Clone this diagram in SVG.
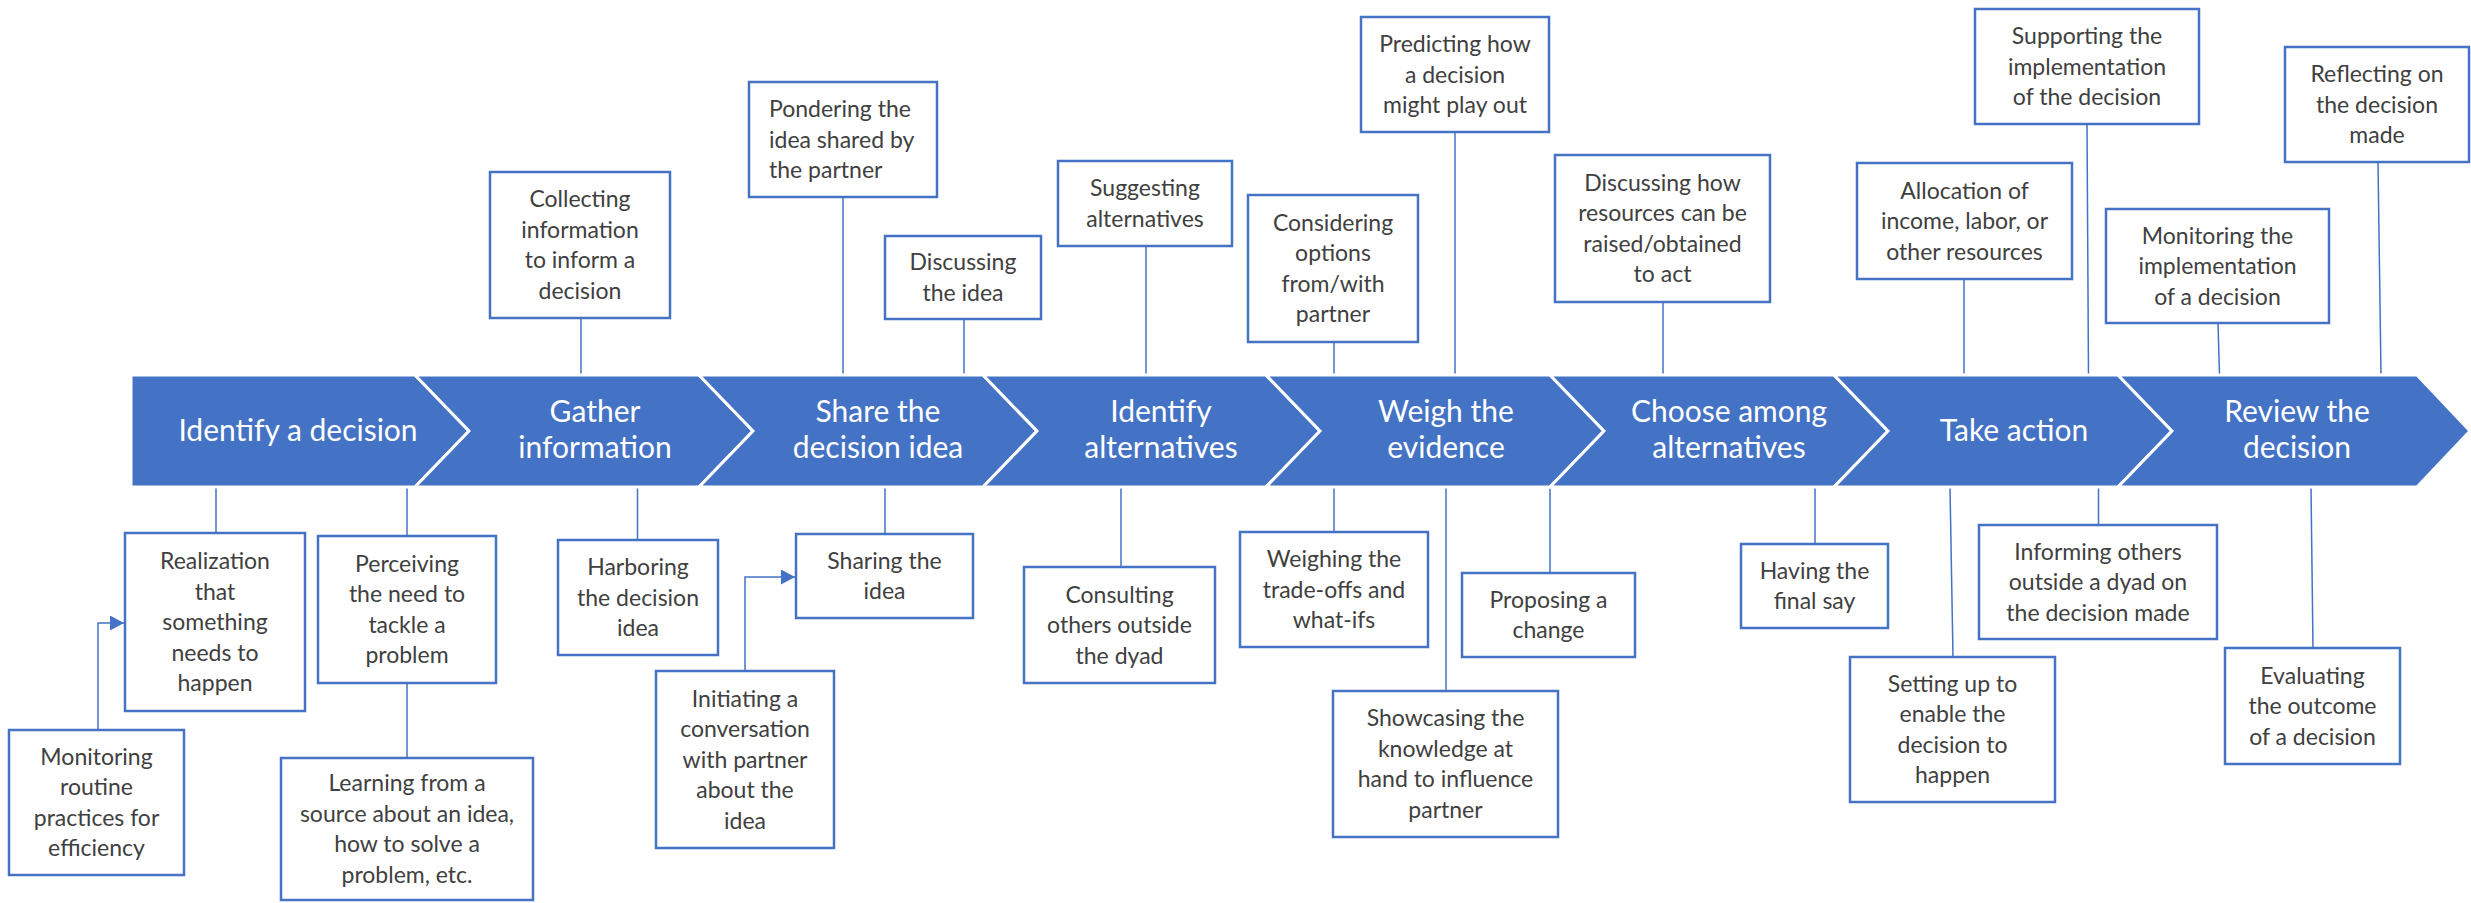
<svg xmlns="http://www.w3.org/2000/svg" width="2471" height="903" viewBox="0 0 2471 903">
<style>
.chev{fill:#4472C4;stroke:#fff;stroke-width:3;stroke-linejoin:miter}
.ct{font-family:Lato,"Liberation Sans",sans-serif;font-size:30px;fill:#fff;text-anchor:middle}
.box{fill:#fff;stroke:#4472C4;stroke-width:2.5}
.bt{font-family:Lato,"Liberation Sans",sans-serif;font-size:23px;fill:#404040;text-anchor:middle}
.lt{text-anchor:start}
.conn{stroke:#4472C4;stroke-width:1.5;fill:none}
</style>
<defs>
<marker id="arr" viewBox="0 0 14 15" refX="14" refY="7.5" markerWidth="14" markerHeight="15" orient="auto" markerUnits="userSpaceOnUse"><path d="M0,0 L14,7.5 L0,15 z" fill="#4472C4"/></marker>
</defs>
<rect width="2471" height="903" fill="#fff"/>
<g id="connectors">
<path class="conn" d="M581,318 V375"/>
<path class="conn" d="M843,197 V375"/>
<path class="conn" d="M964,319 V375"/>
<path class="conn" d="M1146,246 V375"/>
<path class="conn" d="M1334,342 V375"/>
<path class="conn" d="M1455,132 V375"/>
<path class="conn" d="M1663,302 V375"/>
<path class="conn" d="M1964,279 V375"/>
<path class="conn" d="M2087,124 L2088.5,375"/>
<path class="conn" d="M2218,323 L2219.5,375"/>
<path class="conn" d="M2378,162 L2381,375"/>
<path class="conn" d="M216,487 V533"/>
<path class="conn" d="M407,487 V536"/>
<path class="conn" d="M407,683 V758"/>
<path class="conn" d="M637.5,487 V540"/>
<path class="conn" d="M885,487 V534"/>
<path class="conn" d="M1121,487 V567"/>
<path class="conn" d="M1334,487 V532"/>
<path class="conn" d="M1446,487 V691"/>
<path class="conn" d="M1550,487 V573"/>
<path class="conn" d="M1815,487 V544"/>
<path class="conn" d="M1950,487 L1953,657"/>
<path class="conn" d="M2098.5,487 V525"/>
<path class="conn" d="M2311,487 L2313,648"/>
<path class="conn" d="M98,730 V623 H124" marker-end="url(#arr)"/>
<path class="conn" d="M745,671 V577 H795" marker-end="url(#arr)"/>
</g>
<g id="stage1"><polygon class="chev" points="131,375 415,375 469,431 415,487 131,487"/><text class="ct" x="298" y="441">Identify a decision</text></g>
<g id="stage2"><polygon class="chev" points="415,375 699,375 753,431 699,487 415,487 469,431"/><text class="ct" x="595" y="422">Gather</text><text class="ct" x="595" y="458">information</text></g>
<g id="stage3"><polygon class="chev" points="699,375 983,375 1037,431 983,487 699,487 753,431"/><text class="ct" x="878" y="422">Share the</text><text class="ct" x="878" y="458">decision idea</text></g>
<g id="stage4"><polygon class="chev" points="983,375 1266,375 1320,431 1266,487 983,487 1037,431"/><text class="ct" x="1161" y="422">Identify</text><text class="ct" x="1161" y="458">alternatives</text></g>
<g id="stage5"><polygon class="chev" points="1266,375 1550,375 1604,431 1550,487 1266,487 1320,431"/><text class="ct" x="1446" y="422">Weigh the</text><text class="ct" x="1446" y="458">evidence</text></g>
<g id="stage6"><polygon class="chev" points="1550,375 1834,375 1888,431 1834,487 1550,487 1604,431"/><text class="ct" x="1729" y="422">Choose among</text><text class="ct" x="1729" y="458">alternatives</text></g>
<g id="stage7"><polygon class="chev" points="1834,375 2118,375 2172,431 2118,487 1834,487 1888,431"/><text class="ct" x="2014" y="441">Take action</text></g>
<g id="stage8"><polygon class="chev" points="2118,375 2417,375 2470,431 2417,487 2118,487 2172,431"/><text class="ct" x="2297" y="422">Review the</text><text class="ct" x="2297" y="458">decision</text></g>

<g id="t1"><rect class="box" x="490" y="172" width="180" height="146"/><text class="bt" x="580"><tspan x="580" y="207.25">Collecting</tspan><tspan x="580" y="237.75">information</tspan><tspan x="580" y="268.25">to inform a</tspan><tspan x="580" y="298.75">decision</tspan></text></g>
<g id="t2"><rect class="box" x="749" y="82" width="188" height="115"/><text class="bt lt" x="769"><tspan x="769" y="117">Pondering the</tspan><tspan x="769" y="147.5">idea shared by</tspan><tspan x="769" y="178">the partner</tspan></text></g>
<g id="t3"><rect class="box" x="885" y="236" width="156" height="83"/><text class="bt" x="963"><tspan x="963" y="270.25">Discussing</tspan><tspan x="963" y="300.75">the idea</tspan></text></g>
<g id="t4"><rect class="box" x="1058" y="161" width="174" height="85"/><text class="bt" x="1145"><tspan x="1145" y="196.25">Suggesting</tspan><tspan x="1145" y="226.75">alternatives</tspan></text></g>
<g id="t5"><rect class="box" x="1248" y="195" width="170" height="147"/><text class="bt" x="1333"><tspan x="1333" y="230.75">Considering</tspan><tspan x="1333" y="261.25">options</tspan><tspan x="1333" y="291.75">from/with</tspan><tspan x="1333" y="322.25">partner</tspan></text></g>
<g id="t6"><rect class="box" x="1361" y="17" width="188" height="115"/><text class="bt" x="1455"><tspan x="1455" y="52">Predicting how</tspan><tspan x="1455" y="82.5">a decision</tspan><tspan x="1455" y="113">might play out</tspan></text></g>
<g id="t7"><rect class="box" x="1555" y="155" width="215" height="147"/><text class="bt" x="1662.5"><tspan x="1662.5" y="190.75">Discussing how</tspan><tspan x="1662.5" y="221.25">resources can be</tspan><tspan x="1662.5" y="251.75">raised/obtained</tspan><tspan x="1662.5" y="282.25">to act</tspan></text></g>
<g id="t8"><rect class="box" x="1857" y="163" width="215" height="116"/><text class="bt" x="1964.5"><tspan x="1964.5" y="198.5">Allocation of</tspan><tspan x="1964.5" y="229">income, labor, or</tspan><tspan x="1964.5" y="259.5">other resources</tspan></text></g>
<g id="t9"><rect class="box" x="1975" y="9" width="224" height="115"/><text class="bt" x="2087"><tspan x="2087" y="44">Supporting the</tspan><tspan x="2087" y="74.5">implementation</tspan><tspan x="2087" y="105">of the decision</tspan></text></g>
<g id="t10"><rect class="box" x="2106" y="209" width="223" height="114"/><text class="bt" x="2217.5"><tspan x="2217.5" y="243.5">Monitoring the</tspan><tspan x="2217.5" y="274">implementation</tspan><tspan x="2217.5" y="304.5">of a decision</tspan></text></g>
<g id="t11"><rect class="box" x="2285" y="47" width="184" height="115"/><text class="bt" x="2377"><tspan x="2377" y="82">Reflecting on</tspan><tspan x="2377" y="112.5">the decision</tspan><tspan x="2377" y="143">made</tspan></text></g>

<g id="b1"><rect class="box" x="125" y="533" width="180" height="178"/><text class="bt" x="215"><tspan x="215" y="569">Realization</tspan><tspan x="215" y="599.5">that</tspan><tspan x="215" y="630">something</tspan><tspan x="215" y="660.5">needs to</tspan><tspan x="215" y="691">happen</tspan></text></g>
<g id="b2"><rect class="box" x="9" y="730" width="175" height="145"/><text class="bt" x="96.5"><tspan x="96.5" y="764.75">Monitoring</tspan><tspan x="96.5" y="795.25">routine</tspan><tspan x="96.5" y="825.75">practices for</tspan><tspan x="96.5" y="856.25">efficiency</tspan></text></g>
<g id="b3"><rect class="box" x="318" y="536" width="178" height="147"/><text class="bt" x="407"><tspan x="407" y="571.75">Perceiving</tspan><tspan x="407" y="602.25">the need to</tspan><tspan x="407" y="632.75">tackle a</tspan><tspan x="407" y="663.25">problem</tspan></text></g>
<g id="b4"><rect class="box" x="281" y="758" width="252" height="142"/><text class="bt" x="407"><tspan x="407" y="791.25">Learning from a</tspan><tspan x="407" y="821.75">source about an idea,</tspan><tspan x="407" y="852.25">how to solve a</tspan><tspan x="407" y="882.75">problem, etc.</tspan></text></g>
<g id="b5"><rect class="box" x="558" y="540" width="160" height="115"/><text class="bt" x="638"><tspan x="638" y="575">Harboring</tspan><tspan x="638" y="605.5">the decision</tspan><tspan x="638" y="636">idea</tspan></text></g>
<g id="b6"><rect class="box" x="656" y="671" width="178" height="177"/><text class="bt" x="745"><tspan x="745" y="706.5">Initiating a</tspan><tspan x="745" y="737">conversation</tspan><tspan x="745" y="767.5">with partner</tspan><tspan x="745" y="798">about the</tspan><tspan x="745" y="828.5">idea</tspan></text></g>
<g id="b7"><rect class="box" x="796" y="534" width="177" height="84"/><text class="bt" x="884.5"><tspan x="884.5" y="568.75">Sharing the</tspan><tspan x="884.5" y="599.25">idea</tspan></text></g>
<g id="b8"><rect class="box" x="1024" y="567" width="191" height="116"/><text class="bt" x="1119.5"><tspan x="1119.5" y="602.5">Consulting</tspan><tspan x="1119.5" y="633">others outside</tspan><tspan x="1119.5" y="663.5">the dyad</tspan></text></g>
<g id="b9"><rect class="box" x="1240" y="532" width="188" height="115"/><text class="bt" x="1334"><tspan x="1334" y="567">Weighing the</tspan><tspan x="1334" y="597.5">trade-offs and</tspan><tspan x="1334" y="628">what-ifs</tspan></text></g>
<g id="b10"><rect class="box" x="1333" y="691" width="225" height="146"/><text class="bt" x="1445.5"><tspan x="1445.5" y="726.25">Showcasing the</tspan><tspan x="1445.5" y="756.75">knowledge at</tspan><tspan x="1445.5" y="787.25">hand to influence</tspan><tspan x="1445.5" y="817.75">partner</tspan></text></g>
<g id="b11"><rect class="box" x="1462" y="573" width="173" height="84"/><text class="bt" x="1548.5"><tspan x="1548.5" y="607.75">Proposing a</tspan><tspan x="1548.5" y="638.25">change</tspan></text></g>
<g id="b12"><rect class="box" x="1741" y="544" width="147" height="84"/><text class="bt" x="1814.5"><tspan x="1814.5" y="578.75">Having the</tspan><tspan x="1814.5" y="609.25">final say</tspan></text></g>
<g id="b13"><rect class="box" x="1850" y="657" width="205" height="145"/><text class="bt" x="1952.5"><tspan x="1952.5" y="691.75">Setting up to</tspan><tspan x="1952.5" y="722.25">enable the</tspan><tspan x="1952.5" y="752.75">decision to</tspan><tspan x="1952.5" y="783.25">happen</tspan></text></g>
<g id="b14"><rect class="box" x="1979" y="525" width="238" height="114"/><text class="bt" x="2098"><tspan x="2098" y="559.5">Informing others</tspan><tspan x="2098" y="590">outside a dyad on</tspan><tspan x="2098" y="620.5">the decision made</tspan></text></g>
<g id="b15"><rect class="box" x="2225" y="648" width="175" height="116"/><text class="bt" x="2312.5"><tspan x="2312.5" y="683.5">Evaluating</tspan><tspan x="2312.5" y="714">the outcome</tspan><tspan x="2312.5" y="744.5">of a decision</tspan></text></g>
</svg>
